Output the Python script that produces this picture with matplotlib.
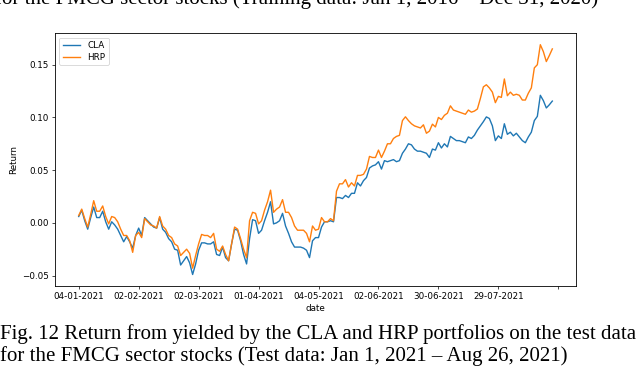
import matplotlib
matplotlib.use("Agg")
import matplotlib.pyplot as plt

# Cumulative returns (one value per trading day)
cla = [
    0.006, 0.012, 0.002, -0.006, 0.005, 0.015, 0.005, 0.005, 0.011, 0.001,
    -0.006, 0.001, -0.002, -0.006, -0.012, -0.018, -0.013, -0.018, -0.024, -0.012,
    -0.005, -0.012, 0.005, 0.002, -0.001, -0.004, -0.005, 0.005, -0.006, -0.009,
    -0.015, -0.018, -0.025, -0.026, -0.040, -0.036, -0.032, -0.038, -0.049, -0.039,
    -0.026, -0.019, -0.019, -0.020, -0.020, -0.018, -0.030, -0.031, -0.023, -0.033,
    -0.036, -0.020, -0.006, -0.007, -0.017, -0.030, -0.039, -0.015, 0.003, 0.002,
    -0.010, -0.007, 0.002, 0.010, 0.020, -0.001, 0.000, 0.002, 0.009, -0.003,
    -0.010, -0.018, -0.023, -0.023, -0.023, -0.024, -0.026, -0.033, -0.017, -0.014,
    -0.014, -0.004, 0.001, 0.001, 0.002, 0.001, 0.024, 0.024, 0.023, 0.026,
    0.024, 0.028, 0.028, 0.038, 0.035, 0.040, 0.043, 0.052, 0.054, 0.055,
    0.058, 0.051, 0.059, 0.058, 0.059, 0.060, 0.058, 0.059, 0.066, 0.070,
    0.075, 0.074, 0.070, 0.068, 0.068, 0.067, 0.066, 0.062, 0.070, 0.069,
    0.076, 0.071, 0.075, 0.072, 0.082, 0.080, 0.078, 0.078, 0.077, 0.076,
    0.0815, 0.080, 0.083, 0.088, 0.092, 0.096, 0.1005, 0.099, 0.092, 0.078,
    0.0825, 0.080, 0.094, 0.084, 0.086, 0.0825, 0.085, 0.0815, 0.078, 0.076,
    0.0815, 0.086, 0.097, 0.101, 0.121, 0.116, 0.109, 0.112, 0.1155,
]
hrp = [
    0.007, 0.013, 0.004, -0.004, 0.008, 0.021, 0.011, 0.011, 0.016, 0.006,
    -0.001, 0.006, 0.005, 0.001, -0.006, -0.012, -0.012, -0.017, -0.028, -0.012,
    -0.009, -0.014, 0.004, 0.001, -0.002, -0.003, -0.005, 0.006, -0.003, -0.006,
    -0.012, -0.014, -0.020, -0.022, -0.031, -0.028, -0.025, -0.029, -0.043, -0.031,
    -0.020, -0.011, -0.012, -0.012, -0.014, -0.010, -0.025, -0.027, -0.022, -0.030,
    -0.036, -0.020, -0.004, -0.006, -0.015, -0.025, -0.033, 0.002, 0.010, 0.009,
    -0.001, 0.002, 0.012, 0.020, 0.031, 0.010, 0.013, 0.015, 0.022, 0.010,
    0.010, 0.005, -0.003, -0.007, -0.007, -0.007, -0.010, -0.018, -0.003, -0.007,
    -0.006, 0.005, 0.001, 0.001, 0.004, 0.002, 0.030, 0.037, 0.037, 0.041,
    0.034, 0.038, 0.035, 0.045, 0.045, 0.046, 0.051, 0.063, 0.062, 0.062,
    0.069, 0.062, 0.068, 0.075, 0.075, 0.080, 0.082, 0.083, 0.097, 0.1006,
    0.097, 0.094, 0.092, 0.091, 0.090, 0.093, 0.085, 0.087, 0.0936, 0.091,
    0.100, 0.098, 0.102, 0.104, 0.111, 0.107, 0.106, 0.105, 0.104, 0.103,
    0.107, 0.105, 0.106, 0.108, 0.118, 0.129, 0.131, 0.128, 0.124, 0.114,
    0.120, 0.119, 0.1365, 0.1206, 0.124, 0.121, 0.122, 0.121, 0.1165, 0.1165,
    0.123, 0.128, 0.147, 0.150, 0.169, 0.1625, 0.153, 0.1587, 0.165,
]

# x tick labels every 20 trading days
tick_labels = ["04-01-2021", "02-02-2021", "02-03-2021", "01-04-2021",
               "04-05-2021", "02-06-2021", "30-06-2021", "29-07-2021", ""]
tick_step = 20

fs = 6.3
fig = plt.figure(figsize=(6.4, 3.69), dpi=100)
ax = fig.add_axes([0.086, 0.225, 0.814, 0.685])

x = list(range(len(cla)))
ax.plot(x, cla, color="#1f77b4", lw=1.0, label="CLA")
ax.plot(x, hrp, color="#ff7f0e", lw=1.0, label="HRP")

ax.set_xticks([i * tick_step for i in range(len(tick_labels))])
ax.set_xticklabels(tick_labels)
ax.set_yticks([-0.05, 0.0, 0.05, 0.10, 0.15])
ax.tick_params(labelsize=fs, length=2.2, width=0.5, pad=2)
for s in ax.spines.values():
    s.set_linewidth(0.6)
ax.set_xlabel("date", fontsize=fs, labelpad=2)
ax.set_ylabel("Return", fontsize=fs, labelpad=3)
leg = ax.legend(loc="upper left", fontsize=fs, handlelength=2.0,
                borderpad=0.4, labelspacing=0.3, framealpha=1)
leg.get_frame().set_linewidth(0.5)

# figure captions (top line is cut off by the crop, as in the source page)
serif = "Liberation Serif"
cap_fs = 15.05
fig.text(-0.008, 0.988, "for the FMCG sector stocks (Training data: Jan 1, 2016 \u2013 Dec 31, 2020)",
         family=serif, fontsize=cap_fs, ha="left", va="baseline")
fig.text(0.0, 0.08, "Fig. 12 Return from yielded by the CLA and HRP portfolios on the test data",
         family=serif, fontsize=cap_fs, ha="left", va="baseline")
fig.text(0.0, 0.022, "for the FMCG sector stocks (Test data: Jan 1, 2021 \u2013 Aug 26, 2021)",
         family=serif, fontsize=cap_fs, ha="left", va="baseline")

fig.savefig("out.png", dpi=100)
